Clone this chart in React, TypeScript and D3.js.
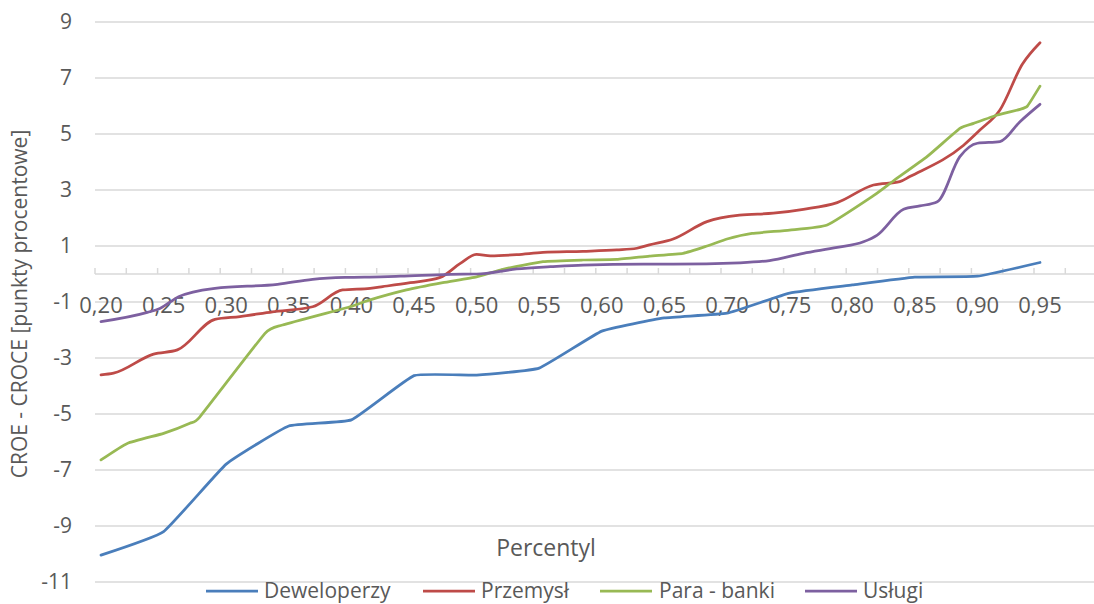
import React from "react";
import * as d3 from "d3";

const W = 1094;
const H = 604;

const yTickValues = [-11, -9, -7, -5, -3, -1, 1, 3, 5, 7, 9];
const xTickValues = [0.2, 0.25, 0.3, 0.35, 0.4, 0.45, 0.5, 0.55, 0.6, 0.65, 0.7, 0.75, 0.8, 0.85, 0.9, 0.95];
const xTickLabels = ["0,20", "0,25", "0,30", "0,35", "0,40", "0,45", "0,50", "0,55", "0,60", "0,65", "0,70", "0,75", "0,80", "0,85", "0,90", "0,95"];

// Deweloperzy
const devX = [0.2, 0.25, 0.3, 0.35, 0.4, 0.45, 0.5, 0.55, 0.6, 0.65, 0.7, 0.75, 0.8, 0.85, 0.9, 0.95];
const devY = [-10.04, -9.2, -6.79, -5.43, -5.21, -3.63, -3.61, -3.36, -2.04, -1.57, -1.4, -0.68, -0.39, -0.11, -0.08, 0.41];

// Przemysł
const przX = [0.2, 0.21, 0.242, 0.261, 0.291, 0.311, 0.337, 0.369, 0.393, 0.415, 0.425, 0.447, 0.471, 0.487, 0.5, 0.511, 0.532, 0.553, 0.585, 0.612, 0.628, 0.638, 0.657, 0.684, 0.71, 0.737, 0.761, 0.788, 0.817, 0.838, 0.846, 0.889, 0.902, 0.918, 0.936, 0.95];
const przY = [-3.6, -3.54, -2.86, -2.71, -1.62, -1.52, -1.35, -1.17, -0.57, -0.51, -0.45, -0.31, -0.12, 0.38, 0.7, 0.65, 0.69, 0.77, 0.81, 0.86, 0.92, 1.04, 1.25, 1.87, 2.1, 2.17, 2.31, 2.55, 3.18, 3.3, 3.48, 4.6, 5.14, 5.86, 7.5, 8.26];

// Para - banki
const parX = [0.2, 0.221, 0.25, 0.271, 0.279, 0.331, 0.345, 0.399, 0.413, 0.444, 0.473, 0.5, 0.521, 0.553, 0.585, 0.612, 0.638, 0.665, 0.684, 0.7, 0.72, 0.75, 0.78, 0.817, 0.833, 0.86, 0.886, 0.897, 0.916, 0.934, 0.94, 0.95];
const parY = [-6.64, -6.05, -5.69, -5.33, -5.1, -2.12, -1.82, -1.17, -0.95, -0.57, -0.31, -0.1, 0.17, 0.44, 0.5, 0.52, 0.64, 0.74, 1.0, 1.25, 1.45, 1.57, 1.75, 2.8, 3.33, 4.2, 5.2, 5.38, 5.68, 5.88, 6.0, 6.71];

// Usługi
const uslX = [0.2, 0.237, 0.247, 0.262, 0.291, 0.341, 0.369, 0.395, 0.423, 0.439, 0.479, 0.5, 0.532, 0.559, 0.585, 0.633, 0.657, 0.71, 0.734, 0.761, 0.788, 0.809, 0.82, 0.841, 0.854, 0.868, 0.886, 0.9, 0.918, 0.934, 0.95];
const uslY = [-1.7, -1.37, -1.23, -0.81, -0.51, -0.37, -0.19, -0.12, -0.1, -0.08, -0.01, 0.0, 0.18, 0.26, 0.32, 0.35, 0.35, 0.4, 0.48, 0.74, 0.95, 1.15, 1.39, 2.31, 2.43, 2.58, 4.19, 4.67, 4.73, 5.44, 6.06];

const seriesNames = ["Deweloperzy", "Przemysł", "Para - banki", "Usługi"];
const seriesColors = ["#4a7ebb", "#be4b48", "#98b954", "#7d60a0"];
const seriesX = [devX, przX, parX, uslX];
const seriesY = [devY, przY, parY, uslY];

const FONT = "'Open Sans', sans-serif";
const TEXT = "#595959";
const GRID = "#d9d9d9";

export default function App() {
  const plotLeft = 95;
  const plotRight = W;
  const x = d3.scaleLinear().domain([0.2, 0.95]).range([101, 1040]);
  const y = d3.scaleLinear().domain([-11, 9]).range([582, 22]);
  const y0 = y(0);

  const tickStart = x.invert(plotLeft);
  const minorTicks = d3.range(0, 33).map((k) => tickStart + k * 0.025).filter((v) => x(v) <= W);

  const curves = [
    d3.curveCardinal.tension(0.65),
    d3.curveMonotoneX,
    d3.curveCardinal.tension(0.55),
    d3.curveMonotoneX,
  ];

  const legendItems = [
    { lx: 206, tx: 264 },
    { lx: 423, tx: 481 },
    { lx: 600, tx: 659 },
    { lx: 805, tx: 863 },
  ];
  const legendY = 591;

  return (
    <svg
      width={W}
      height={H}
      style={{ position: "absolute", left: 0, top: 0, background: "#fff" }}
      fontFamily={FONT}
    >
      <rect x={0} y={0} width={W} height={H} fill="#fff" />
      {yTickValues.map((v) => (
        <line key={"g" + v} x1={plotLeft} x2={plotRight} y1={y(v)} y2={y(v)} stroke={GRID} strokeWidth={1.5} />
      ))}
      <line x1={plotLeft} x2={plotRight} y1={y0} y2={y0} stroke={GRID} strokeWidth={1.5} />
      {minorTicks.map((v, i) => (
        <line key={"t" + i} x1={x(v)} x2={x(v)} y1={y0 - 6} y2={y0} stroke={GRID} strokeWidth={1.5} />
      ))}
      {yTickValues.map((v) => (
        <text key={"yl" + v} x={72} y={y(v)} dy="0.35em" textAnchor="end" fontSize={21} fill={TEXT}>
          {v}
        </text>
      ))}
      {xTickValues.map((v, i) => (
        <text key={"xl" + v} x={x(v)} y={305} dy="0.35em" textAnchor="middle" fontSize={22} fill={TEXT}>
          {xTickLabels[i]}
        </text>
      ))}
      {seriesX.map((xs, i) => {
        const pts = xs.map((xv, j) => [xv, seriesY[i][j]] as [number, number]);
        const line = d3
          .line<[number, number]>()
          .x((d) => x(d[0]))
          .y((d) => y(d[1]))
          .curve(curves[i]);
        return (
          <path
            key={"s" + i}
            d={line(pts) || ""}
            fill="none"
            stroke={seriesColors[i]}
            strokeWidth={2.75}
            strokeLinejoin="round"
            strokeLinecap="round"
          />
        );
      })}
      <text
        transform={`translate(20, 304) rotate(-90)`}
        textAnchor="middle"
        dy="0.35em"
        fontSize={21}
        fill={TEXT}
      >
        CROE - CROCE [punkty procentowe]
      </text>
      <text x={546} y={548} dy="0.35em" textAnchor="middle" fontSize={23} fill={TEXT}>
        Percentyl
      </text>
      {seriesNames.map((name, i) => (
        <g key={"lg" + i}>
          <line
            x1={legendItems[i].lx}
            x2={legendItems[i].lx + 52}
            y1={legendY}
            y2={legendY}
            stroke={seriesColors[i]}
            strokeWidth={2.75}
          />
          <text x={legendItems[i].tx} y={legendY} dy="0.35em" fontSize={21} fill={TEXT}>
            {name}
          </text>
        </g>
      ))}
    </svg>
  );
}
